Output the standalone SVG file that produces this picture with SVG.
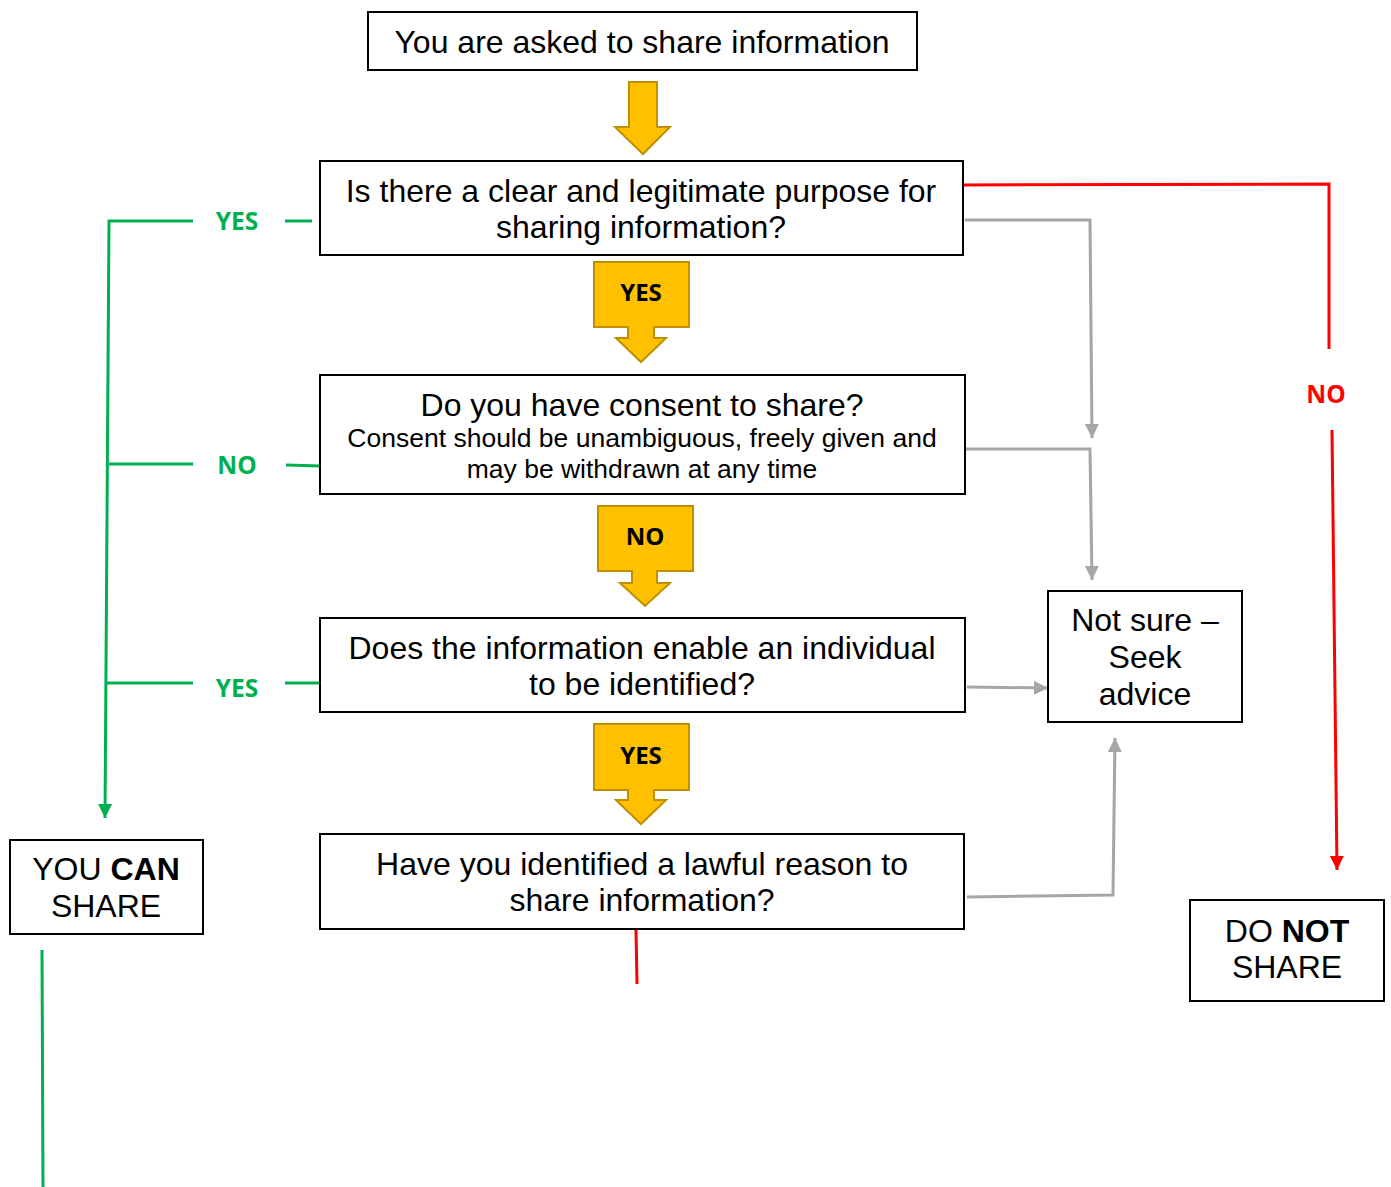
<svg xmlns="http://www.w3.org/2000/svg" width="1391" height="1187" viewBox="0 0 1391 1187">
<style>
.box{fill:#fff;stroke:#000;stroke-width:2}
.t{font-family:"Liberation Sans",Arial,sans-serif;font-size:32px;fill:#000;text-anchor:middle}
.s{font-size:26.5px}
.call{fill:#FFC000;stroke:#BF9000;stroke-width:2}
.ct{font-family:"Open Sans","Noto Sans",sans-serif;font-weight:bold;font-size:24px;fill:#000;text-anchor:middle}
.gl{font-family:"Open Sans","Noto Sans",sans-serif;font-weight:bold;font-size:24.5px;fill:#00B050;text-anchor:middle}
.rl{font-family:"Open Sans","Noto Sans",sans-serif;font-weight:bold;font-size:24.5px;fill:#FF0000;text-anchor:middle}
.g{fill:none;stroke:#00B050;stroke-width:3}
.r{fill:none;stroke:#FF0000;stroke-width:3}
.y{fill:none;stroke:#A6A6A6;stroke-width:3}
</style>
<defs>
<marker id="ag" markerUnits="userSpaceOnUse" markerWidth="16" markerHeight="16" refX="14" refY="7" orient="auto"><path d="M0,0 L14,7 L0,14 z" fill="#00B050"/></marker>
<marker id="ar" markerUnits="userSpaceOnUse" markerWidth="16" markerHeight="16" refX="14" refY="7" orient="auto"><path d="M0,0 L14,7 L0,14 z" fill="#FF0000"/></marker>
<marker id="ay" markerUnits="userSpaceOnUse" markerWidth="16" markerHeight="16" refX="14" refY="7" orient="auto"><path d="M0,0 L14,7 L0,14 z" fill="#A6A6A6"/></marker>
</defs>

<g id="connectors">
<!-- green -->
<path class="g" d="M193,221 L109,221 L105,818" marker-end="url(#ag)"/>
<line class="g" x1="285" y1="221" x2="312" y2="221"/>
<line class="g" x1="109" y1="464" x2="193" y2="464"/>
<line class="g" x1="286" y1="465" x2="320" y2="466"/>
<line class="g" x1="107" y1="683" x2="193" y2="683"/>
<line class="g" x1="285" y1="683" x2="320" y2="683"/>
<line class="g" x1="42" y1="950" x2="43" y2="1187"/>
<text class="gl" x="237" y="230">YES</text>
<text class="gl" x="237" y="474">NO</text>
<text class="gl" x="237" y="697">YES</text>
<!-- red -->
<path class="r" d="M963,185 L1329,184 L1329,349"/>
<line class="r" x1="1332" y1="430" x2="1337" y2="870" marker-end="url(#ar)"/>
<line class="r" x1="636" y1="929" x2="637" y2="984"/>
<text class="rl" x="1326" y="403">NO</text>
<!-- gray -->
<path class="y" d="M965,220 L1090,220 L1092,438" marker-end="url(#ay)"/>
<path class="y" d="M965,449 L1090,449 L1092,580" marker-end="url(#ay)"/>
<line class="y" x1="967" y1="687" x2="1048" y2="688" marker-end="url(#ay)"/>
<path class="y" d="M967,897 L1113,895 L1115,738" marker-end="url(#ay)"/>
<!-- yellow arrows -->
<path class="call" d="M629,82 L657,82 L657,127 L670,127 L643,154 L615,127 L629,127 z"/>
<path class="call" d="M594,262 L689,262 L689,327 L654,327 L654,338 L666,338 L641,362 L616,338 L628,338 L628,327 L594,327 z"/>
<text class="ct" x="641" y="301">YES</text>
<path class="call" d="M598,506 L693,506 L693,571 L657,571 L657,583 L670,583 L645,606 L620,583 L632,583 L632,571 L598,571 z"/>
<text class="ct" x="645" y="545">NO</text>
<path class="call" d="M594,724 L689,724 L689,790 L654,790 L654,800 L666,800 L641,824 L616,800 L628,800 L628,790 L594,790 z"/>
<text class="ct" x="641" y="764">YES</text>
</g>

<g id="n-start">
<rect class="box" x="368" y="12" width="549" height="58"/>
<text class="t" x="642" y="53">You are asked to share information</text>
</g>
<g id="n-purpose">
<rect class="box" x="320" y="161" width="643" height="94"/>
<text class="t" x="641" y="202">Is there a clear and legitimate purpose for</text>
<text class="t" x="641" y="238">sharing information?</text>
</g>
<g id="n-consent">
<rect class="box" x="320" y="375" width="645" height="119"/>
<text class="t" x="642" y="416">Do you have consent to share?</text>
<text class="t s" x="642" y="447">Consent should be unambiguous, freely given and</text>
<text class="t s" x="642" y="478">may be withdrawn at any time</text>
</g>
<g id="n-identify">
<rect class="box" x="320" y="618" width="645" height="94"/>
<text class="t" x="642" y="659">Does the information enable an individual</text>
<text class="t" x="642" y="695">to be identified?</text>
</g>
<g id="n-lawful">
<rect class="box" x="320" y="834" width="644" height="95"/>
<text class="t" x="642" y="875">Have you identified a lawful reason to</text>
<text class="t" x="642" y="911">share information?</text>
</g>
<g id="n-notsure">
<rect class="box" x="1048" y="591" width="194" height="131"/>
<text class="t" x="1145" y="631">Not sure –</text>
<text class="t" x="1145" y="668">Seek</text>
<text class="t" x="1145" y="705">advice</text>
</g>
<g id="n-can">
<rect class="box" x="10" y="840" width="193" height="94"/>
<text class="t" x="106" y="880">YOU <tspan font-weight="bold">CAN</tspan></text>
<text class="t" x="106" y="917">SHARE</text>
</g>
<g id="n-not">
<rect class="box" x="1190" y="900" width="194" height="101"/>
<text class="t" x="1287" y="942">DO <tspan font-weight="bold">NOT</tspan></text>
<text class="t" x="1287" y="978">SHARE</text>
</g>
</svg>
